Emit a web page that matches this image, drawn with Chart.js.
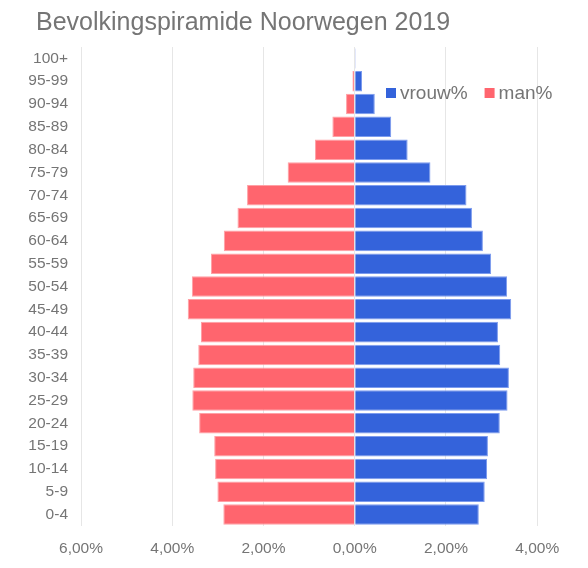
<!DOCTYPE html>
<html>
<head>
  <script src="https://cdn.jsdelivr.net/npm/chart.js"></script>
  <style>
    body { margin: 0; background: #fff; }
  </style>
</head>
<body>
  <canvas id="pyramid" width="588" height="568"></canvas>

  <script>
    // Age groups, top to bottom
    var ageGroups = ['100+', '95-99', '90-94', '85-89', '80-84', '75-79', '70-74', '65-69',
      '60-64', '55-59', '50-54', '45-49', '40-44', '35-39', '30-34', '25-29', '20-24',
      '15-19', '10-14', '5-9', '0-4'];

    // Share of population in percent
    var vrouwPct = [0.02, 0.16, 0.44, 0.80, 1.16, 1.66, 2.45, 2.57, 2.81, 2.99, 3.34, 3.43,
      3.14, 3.19, 3.38, 3.35, 3.18, 2.92, 2.90, 2.85, 2.72];
    var manPct = [0.01, 0.05, 0.19, 0.49, 0.87, 1.47, 2.36, 2.57, 2.87, 3.15, 3.57, 3.66,
      3.37, 3.43, 3.54, 3.56, 3.41, 3.08, 3.06, 3.01, 2.88];

    var xTicks = [-6, -4, -2, 0, 2, 4];

    var titleText = 'Bevolkingspiramide Noorwegen 2019';
    var grey = '#757575';
    var fontFam = '"Liberation Sans", Arial, sans-serif';

    // title and legend drawn by hand so they sit where the original has them
    var decorations = {
      id: 'decorations',
      afterDraw: function(chart) {
        var ctx = chart.ctx;
        ctx.save();
        ctx.fillStyle = grey;
        ctx.textBaseline = 'middle';
        ctx.font = '25px ' + fontFam;
        ctx.fillText(titleText, 36, 23);

        var x = 386, y = 93;
        ctx.font = '19px ' + fontFam;
        chart.data.datasets.forEach(function(ds) {
          ctx.fillStyle = ds.backgroundColor;
          ctx.fillRect(x, y - 5, 10, 10);
          ctx.fillStyle = grey;
          ctx.fillText(ds.label, x + 14, y + 1);
          x += 14 + ctx.measureText(ds.label).width + 17;
        });
        ctx.restore();
      }
    };

    new Chart(document.getElementById('pyramid'), {
      type: 'bar',
      data: {
        labels: ageGroups,
        datasets: [{
          label: 'vrouw%',
          data: vrouwPct,
          backgroundColor: '#3463db',
          borderColor: '#7c9bee',
          borderWidth: 1,
          barPercentage: 0.9,
          categoryPercentage: 1
        }, {
          label: 'man%',
          data: manPct.map(function(v) { return -v; }),
          backgroundColor: '#ff656e',
          borderColor: '#ffa0a5',
          borderWidth: 1,
          barPercentage: 0.9,
          categoryPercentage: 1
        }]
      },
      options: {
        indexAxis: 'y',
        responsive: false,
        animation: false,
        layout: { padding: { left: 10, right: 28, top: 47, bottom: 0 } },
        plugins: {
          legend: { display: false },
          tooltip: { enabled: false },
          title: { display: false }
        },
        scales: {
          x: {
            stacked: true,
            min: -6,
            max: 4.5,
            border: { display: false },
            grid: { color: '#e6e6e6', drawTicks: false },
            afterBuildTicks: function(axis) {
              axis.ticks = xTicks.map(function(v) { return { value: v }; });
            },
            afterFit: function(axis) { axis.height = 42; },
            ticks: {
              color: grey,
              padding: 13,
              font: { family: fontFam, size: 15.5 },
              callback: function(v) {
                return Math.abs(v).toFixed(2).replace('.', ',') + '%';
              }
            }
          },
          y: {
            stacked: true,
            border: { display: false },
            grid: { display: false },
            afterFit: function(axis) { axis.width = 71; },
            ticks: {
              color: grey,
              padding: 5,
              autoSkip: false,
              font: { family: fontFam, size: 15.5 }
            }
          }
        }
      },
      plugins: [decorations]
    });
  </script>
</body>
</html>
